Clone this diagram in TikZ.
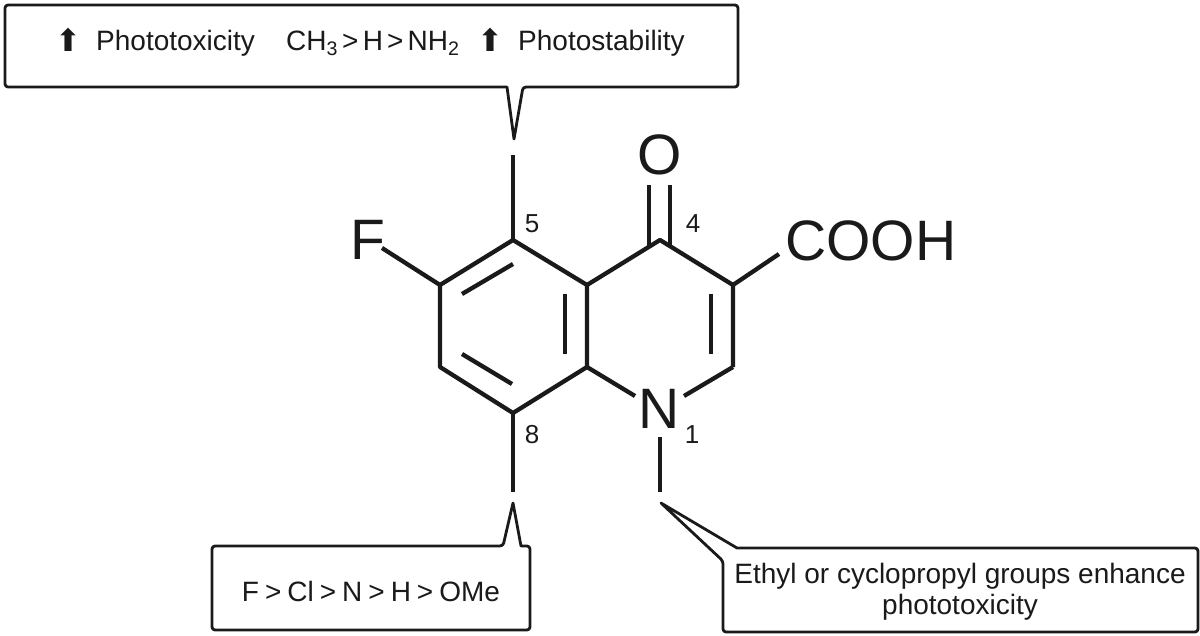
\documentclass[tikz,border=0pt]{standalone}
\usepackage{fontspec}
\setmainfont{Liberation Sans}
\newfontfamily\arrowfont{DejaVu Sans}
\definecolor{ink}{HTML}{1A1A1A}
\tikzset{
  bond/.style={draw=ink,line width=4.3pt,line cap=butt,line join=miter},
  callout/.style={draw=ink,line width=2.8pt,line join=round,fill=white},
  atomlabel/.style={text=ink,inner sep=0pt,font=\fontsize{57}{57}\selectfont},
  numlabel/.style={text=ink,inner sep=0pt,font=\fontsize{26}{26}\selectfont},
  boxtext/.style={text=ink,inner sep=0pt,font=\fontsize{28}{31}\selectfont},
  arrowglyph/.style={text=ink,inner sep=0pt,font=\fontsize{31}{31}\selectfont\arrowfont},
}
\begin{document}
\begin{tikzpicture}[x=1pt,y=-1pt]
\useasboundingbox (0,0) rectangle (1200,635);
% ring atoms
\coordinate (c5) at (513,240);
\coordinate (c6) at (440,285);
\coordinate (c7) at (440,367);
\coordinate (c8) at (513,413);
\coordinate (c8a) at (587,367);
\coordinate (c4a) at (587,285);
\coordinate (c4) at (660,240);
\coordinate (c3) at (733,285);
\coordinate (c2) at (733,367);
% free ends
\coordinate (nl) at (635,396);
\coordinate (nr) at (684,396);
\coordinate (fb) at (382,248);
\coordinate (cb) at (779,254);
\coordinate (up5) at (513,155);
\coordinate (dn8) at (513,492);
\coordinate (dn1) at (660,492);
\coordinate (n1t) at (660,437);
% callouts
\coordinate (tipA) at (514,139);
\coordinate (tipB) at (513,503);
\coordinate (tipC) at (661,503);
\draw[callout,rounded corners=3pt] (5,5) -- (738,5) -- (738,87) -- (523,87) [sharp corners] -- (tipA) -- (507,87) [rounded corners=3pt] -- (5,87) -- cycle;
\draw[callout,rounded corners=3pt] (212,546) -- (503,546) [sharp corners] -- (tipB) -- (521,546) [rounded corners=3pt] -- (530,546) -- (530,630) -- (212,630) -- cycle;
\draw[callout,rounded corners=3pt] (723,632) -- (723,561) [sharp corners] -- (tipC) -- (737,548) [rounded corners=3pt] -- (1198,548) -- (1198,632) -- cycle;
% bonds
\draw[bond,line join=round] (c5) -- (c6) -- (c7) -- (c8) -- (c8a) -- (c4a) -- (c5);
\draw[bond,line join=round] (c4a) -- (c4) -- (c3) -- (c2);
\draw[bond] (c8a) -- (nl);
\draw[bond] (c2) -- (nr);
\draw[bond] (c6) -- (fb);
\draw[bond] (c3) -- (cb);
\draw[bond] (c5) -- (up5);
\draw[bond] (c8) -- (dn8);
\draw[bond] (n1t) -- (dn1);
\coordinate (oa) at (649,185); \coordinate (oab) at (649,246);
\coordinate (ob) at (670,185); \coordinate (obb) at (670,246);
\draw[bond] (oa) -- (oab);
\draw[bond] (ob) -- (obb);
\coordinate (i1a) at (513,264); \coordinate (i1b) at (462,294);
\draw[bond] (i1a) -- (i1b);
\coordinate (i2a) at (462,354); \coordinate (i2b) at (512,384);
\draw[bond] (i2a) -- (i2b);
\coordinate (i3a) at (565,294); \coordinate (i3b) at (565,354);
\draw[bond] (i3a) -- (i3b);
\coordinate (i4a) at (711,294); \coordinate (i4b) at (711,354);
\draw[bond] (i4a) -- (i4b);
% atom labels
\node[atomlabel] (O) at (660,155) {O};
\node[atomlabel,anchor=base west] (F) at (350,259) {F};
\node[atomlabel,anchor=base west] (COOH) at (785,260) {COOH};
\node[atomlabel,anchor=base] (N) at (659,428) {N};
% numbers
\node[numlabel,anchor=base] (n5) at (532,232) {5};
\node[numlabel,anchor=base] (n4) at (693,232) {4};
\node[numlabel,anchor=base] (n8) at (532,443) {8};
\node[numlabel,anchor=base] (n1) at (692,443) {1};
% box texts
\node[arrowglyph,anchor=base west] (upA) at (55,51) {⬆};
\node[boxtext,anchor=base west] (txA) at (96,50) {Phototoxicity};
\node[boxtext,anchor=base west] (txB) at (286,50) {\spaceskip=4.2pt CH\textsubscript{3} > H > NH\textsubscript{2}};
\node[arrowglyph,anchor=base west] (upB) at (477,51) {⬆};
\node[boxtext,anchor=base west] (txC) at (518,50) {Photostability};
\node[boxtext,anchor=base] (txD) at (371,601) {\spaceskip=6pt F > Cl > N > H > OMe};
\node[boxtext,align=center,anchor=center] (txE) at (960,592) {Ethyl or cyclopropyl groups enhance\\phototoxicity};
\end{tikzpicture}
\end{document}
